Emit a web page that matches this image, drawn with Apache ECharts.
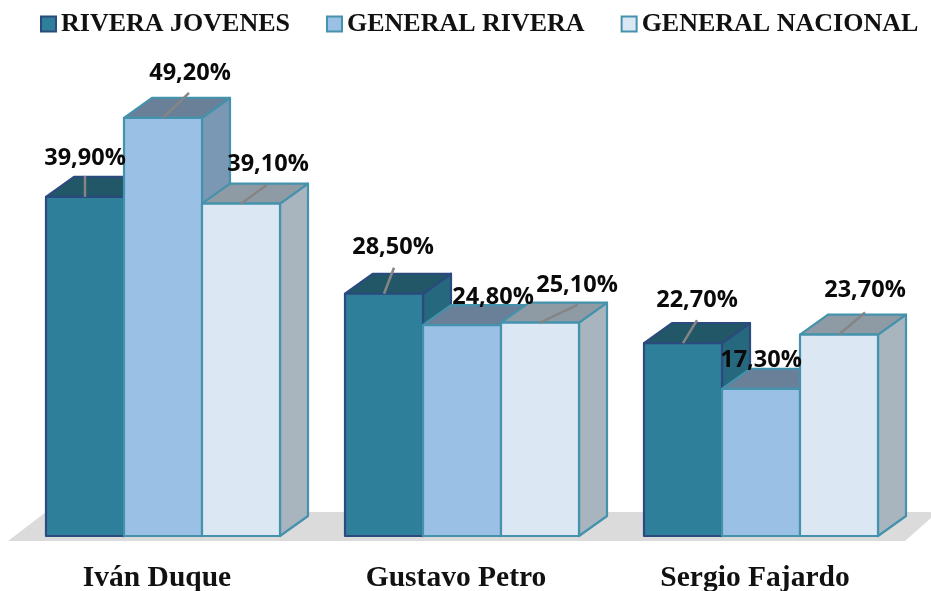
<!DOCTYPE html>
<html><head><meta charset="utf-8">
<style>html,body{margin:0;padding:0;background:#fff}#c{width:931px;height:591px}</style>
<script src="https://cdn.jsdelivr.net/npm/echarts@6/dist/echarts.min.js"></script>
</head><body><div id="c"></div>
<script>
const categories = ['Iván Duque', 'Gustavo Petro', 'Sergio Fajardo'];
const riveraJovenes = [39.9, 28.5, 22.7];
const generalRivera = [49.2, 24.8, 17.3];
const generalNacional = [39.1, 25.1, 23.7];

// Hand-placed data labels (offset from top-centre of the bar's front face) and leader lines
const labelOffsets = [
  [[0, -39], [9, -46], [14, -43]],
  [[27, -44], [31, -28], [0, -29]],
  [[27, -39], [37, -37], [26, -44]]
];
const leaderEnds = [
  [[0, -21], [10, -26], [14, -23]],
  [[26, -25], null, null],
  [[26, -19], [38, -18], [26, -22]]
];
const palettes = [
  {name: 'RIVERA JOVENES', front: '#2E7F9A', top: '#215766', side: '#26687E', border: '#2B4A7D'},
  {name: 'GENERAL RIVERA', front: '#9BC0E5', top: '#6A7F98', side: '#7A97B4', border: '#4492AC'},
  {name: 'GENERAL NACIONAL', front: '#DCE7F4', top: '#8F9BA4', side: '#A8B5BF', border: '#4492AC'}
];
const seriesValues = [riveraJovenes, generalRivera, generalNacional];
const barW = 78, depthX = 28, depthY = 20;
const fmt = v => v.toFixed(2).replace('.', ',') + '%';

function barRenderer(si) {
  const p = palettes[si];
  return function (params, api) {
    const ci = params.dataIndex;
    const val = api.value(1);
    const base = api.coord([ci, 0]);
    const top = api.coord([ci, val]);
    const cx = base[0] + (si - 1) * barW;
    const l = cx - barW / 2, r = cx + barW / 2, t = top[1], b = base[1];
    const line = {stroke: p.border, lineWidth: 2.2, lineJoin: 'round'};
    const children = [
      {type: 'polygon', shape: {points: [[r, t], [r + depthX, t - depthY], [r + depthX, b - depthY], [r, b]]},
        style: Object.assign({fill: p.side}, line)},
      {type: 'polygon', shape: {points: [[l, t], [l + depthX, t - depthY], [r + depthX, t - depthY], [r, t]]},
        style: Object.assign({fill: p.top}, line)},
      {type: 'rect', shape: {x: l, y: t, width: barW, height: b - t},
        style: Object.assign({fill: p.front}, line)}
    ];
    const le = leaderEnds[si][ci];
    if (le) children.push({type: 'line', z2: 50, shape: {x1: cx, y1: t, x2: cx + le[0], y2: t + le[1]},
      style: {stroke: '#858585', lineWidth: 2.5}});
    const off = labelOffsets[si][ci];
    children.push({type: 'text', z2: 100, x: cx + off[0], y: t + off[1],
      style: {text: fmt(val), fill: '#0a0a0a', font: 'bold 23.5px "Open Sans"', align: 'center', verticalAlign: 'middle'}});
    return {type: 'group', children};
  };
}

const series = [{
  type: 'custom', silent: true, z: 1, data: [[0, 0]], legendHoverLink: false,
  encode: {x: 0, y: 1}, clip: false,
  renderItem: function (params, api) {
    const b = api.coord([0, 0])[1];
    return {type: 'polygon', shape: {points: [[46, b - 24], [931, b - 24], [931, b - 18], [905, b + 5], [8, b + 5]]},
      style: {fill: '#DCDBDC'}};
  }
}].concat(palettes.map((p, si) => ({
  type: 'custom', name: p.name, z: 2, clip: false,
  itemStyle: {color: p.front, borderColor: p.border, borderWidth: 2},
  encode: {x: 0, y: 1},
  data: seriesValues[si].map((v, i) => [i, v]),
  renderItem: barRenderer(si)
})));

const chart = echarts.init(document.getElementById('c'), null, {renderer: 'canvas'});
chart.setOption({
  animation: false,
  backgroundColor: '#fff',
  legend: {
    top: 11, left: 40, padding: 0, icon: 'rect', itemWidth: 15, itemHeight: 15, itemGap: 36,
    data: palettes.map(p => p.name),
    selectedMode: false,
    textStyle: {fontFamily: '"Liberation Serif"', fontWeight: 'bold', fontSize: 26, color: '#111'}
  },
  grid: {left: 13.5, top: 111, width: 897, height: 425, outerBoundsMode: 'none'},
  xAxis: {
    type: 'category', data: categories,
    axisLine: {show: false}, axisTick: {show: false}, splitLine: {show: false},
    axisLabel: {margin: 27, color: '#111', fontFamily: '"Liberation Serif"', fontWeight: 'bold', fontSize: 29.5, padding: [0, 12, 0, 0]}
  },
  yAxis: {type: 'value', min: 0, max: 50, show: false, splitLine: {show: false}},
  series
});
</script></body></html>
